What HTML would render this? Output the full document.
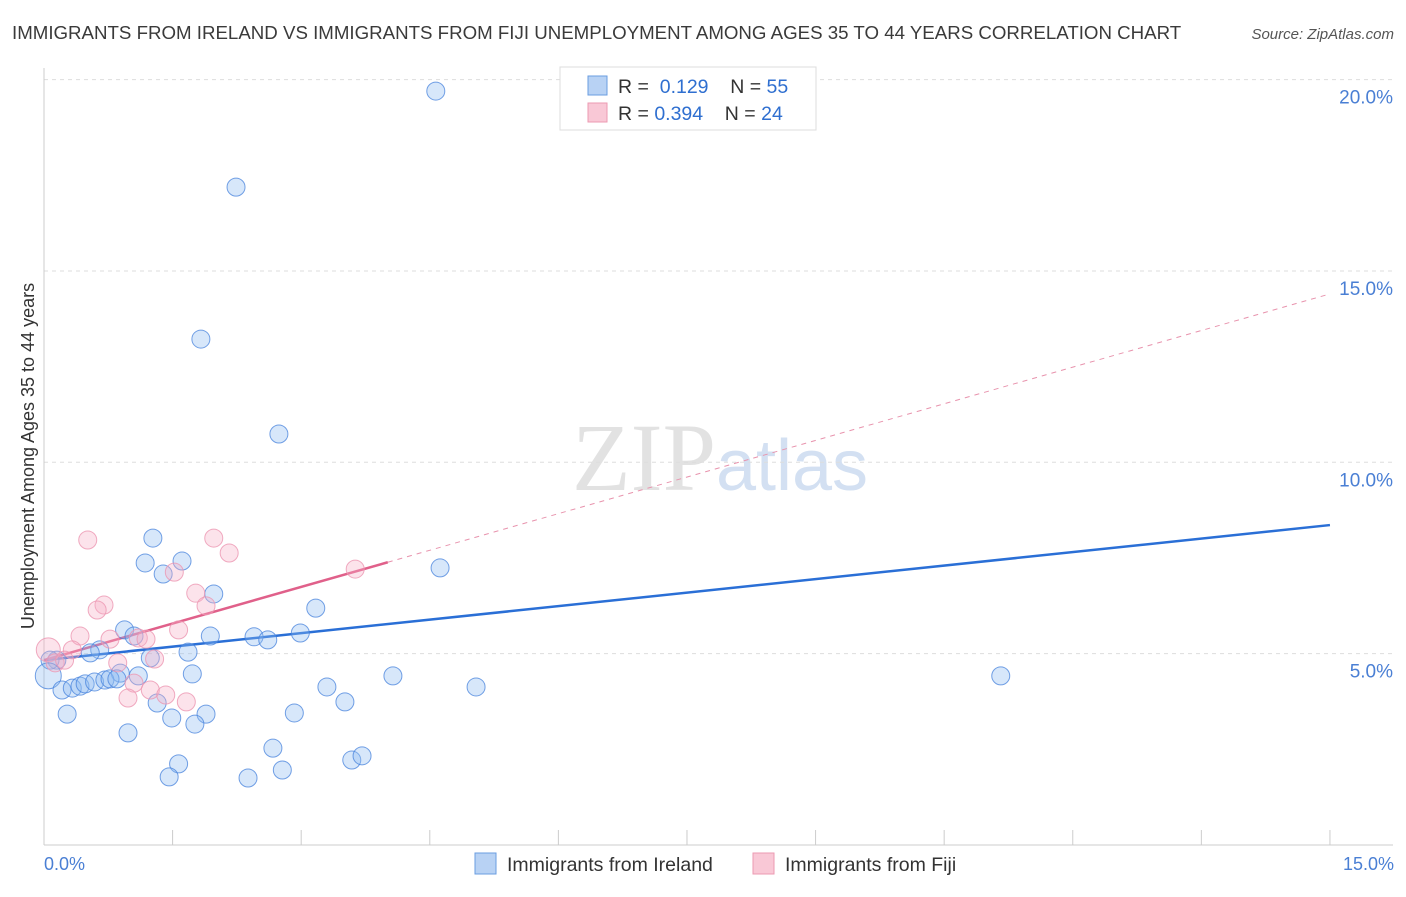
<!DOCTYPE html>
<html><head><meta charset="utf-8"><style>
body{margin:0;background:#fff;font-family:"Liberation Sans",sans-serif;}
svg text{font-family:"Liberation Sans",sans-serif;}
</style></head><body>
<svg id="chart" width="1406" height="892" viewBox="0 0 1406 892">
<text x="12" y="39" font-size="18.7" fill="#3a3a3a">IMMIGRANTS FROM IRELAND VS IMMIGRANTS FROM FIJI UNEMPLOYMENT AMONG AGES 35 TO 44 YEARS CORRELATION CHART</text>
<text x="1394" y="39" font-size="15" font-style="italic" fill="#555" text-anchor="end">Source: ZipAtlas.com</text>
<text x="720" y="490" font-size="96" text-anchor="middle"><tspan fill="#e2e2e2" font-family="Liberation Serif">ZIP</tspan><tspan fill="#d3e0f2" font-size="72">atlas</tspan></text>
<g id="grid"></g><g id="axes"></g><g id="trends"></g><g id="pts"></g>
<text transform="translate(34,456) rotate(-90)" font-size="18" fill="#333" text-anchor="middle">Unemployment Among Ages 35 to 44 years</text>
<text x="44" y="870" font-size="18" fill="#4a7fd4">0.0%</text>
<text x="1394" y="870" font-size="18" fill="#4a7fd4" text-anchor="end">15.0%</text>
<g>
<rect x="560" y="67" width="256" height="63" fill="#fff" stroke="#ddd"/>
<rect x="588" y="76" width="19" height="19" fill="#b8d2f4" stroke="#6a9de0"/>
<rect x="588" y="103" width="19" height="19" fill="#f9c8d6" stroke="#ec9ab2"/>
<text x="618" y="93" font-size="19.5" fill="#333">R = <tspan fill="#2f6fd0">&#160;0.129</tspan>&#160;&#160;&#160;&#160;N = <tspan fill="#2f6fd0">55</tspan></text>
<text x="618" y="120" font-size="19.5" fill="#333">R = <tspan fill="#2f6fd0">0.394</tspan>&#160;&#160;&#160;&#160;N = <tspan fill="#2f6fd0">24</tspan></text>
</g>
<g>
<rect x="475" y="853" width="21" height="21" fill="#b8d2f4" stroke="#6a9de0"/>
<text x="507" y="871" font-size="19.5" fill="#333">Immigrants from Ireland</text>
<rect x="753" y="853" width="21" height="21" fill="#f9c8d6" stroke="#ec9ab2"/>
<text x="785" y="871" font-size="19.5" fill="#333">Immigrants from Fiji</text>
</g>
</svg>
<script>
const yTicks=[5,10,15,20];
const xTickCount=10;
const irelandX=[4.57,2.24,1.83,2.74,1.27,1.18,1.61,1.39,1.98,4.62,3.17,0.94,1.05,1.94,2.45,2.61,2.99,1.68,0.65,0.54,1.24,0.15,0.07,0.05,1.73,1.10,0.89,4.07,11.16,5.04,3.30,0.21,0.33,0.42,0.48,0.59,0.71,0.77,0.85,3.51,1.32,1.49,1.89,2.92,1.76,0.27,0.98,2.67,1.57,1.46,2.38,2.78,3.59,3.71];
const irelandY=[19.70,17.19,13.22,10.74,8.02,7.37,7.42,7.08,6.56,7.24,6.19,5.62,5.46,5.46,5.44,5.36,5.54,5.04,5.10,5.02,4.89,4.83,4.83,4.42,4.47,4.42,4.49,4.42,4.42,4.13,4.13,4.05,4.10,4.15,4.21,4.26,4.31,4.34,4.34,3.74,3.71,3.32,3.42,3.45,3.16,3.42,2.93,2.53,2.12,1.78,1.75,1.96,2.22,2.33];
const fijiX=[0.51,1.98,2.16,1.52,3.63,1.77,0.70,0.62,1.89,1.10,0.42,0.77,1.57,1.19,1.29,0.33,0.05,0.13,0.86,0.24,1.05,1.24,1.42,0.98,1.66];
const fijiY=[7.97,8.02,7.63,7.13,7.21,6.58,6.27,6.14,6.25,5.41,5.46,5.38,5.62,5.38,4.86,5.10,5.10,4.76,4.76,4.83,4.23,4.05,3.92,3.84,3.74];
const irelandTrend=[4.83,8.36];
const fijiTrend=[4.83,0.638];
const fijiSolidEnd=4.01;
const NS="http://www.w3.org/2000/svg";
const X=v=>44+v*85.73, Y=v=>845-v*38.27;
function mk(tag,at,parent){const e=document.createElementNS(NS,tag);for(const k in at)e.setAttribute(k,at[k]);document.getElementById(parent).appendChild(e);return e;}
yTicks.forEach(t=>{
 const l=mk('line',{x1:44,x2:1393,y1:Y(t),y2:Y(t),stroke:'#ddd','stroke-dasharray':'4,4'},'grid');
 
 
 const tx=mk('text',{x:1393,y:Y(t)+24,'font-size':19,fill:'#4a7fd4','text-anchor':'end'},'grid');
 tx.textContent=t.toFixed(1)+'%';
 
 
});
const ya=mk('line',{x1:44,x2:44,y1:68,y2:845,stroke:'#ccc'},'axes');


const xa=mk('line',{x1:44,x2:1393,y1:845,y2:845,stroke:'#ccc'},'axes');


for(let i=0;i<=xTickCount;i++){
 const t=mk('line',{x1:X(i*1.5),x2:X(i*1.5),y1:830,y2:845,stroke:'#ccc'},'axes');
 
 
}
const bt=mk('line',{x1:X(0),y1:Y(irelandTrend[0]),x2:X(15),y2:Y(irelandTrend[1]),stroke:'#2a6fd6','stroke-width':2.5},'trends');


const pd=mk('line',{x1:X(fijiSolidEnd),y1:Y(fijiTrend[0]+fijiTrend[1]*fijiSolidEnd),x2:X(15),y2:Y(fijiTrend[0]+fijiTrend[1]*15),stroke:'#e893ad','stroke-width':1,'stroke-dasharray':'5,5'},'trends');


const ps=mk('line',{x1:X(0),y1:Y(fijiTrend[0]),x2:X(fijiSolidEnd),y2:Y(fijiTrend[0]+fijiTrend[1]*fijiSolidEnd),stroke:'#e0608a','stroke-width':2.5},'trends');


irelandX.forEach((x,i)=>{
 const c=mk('circle',{cx:X(x),cy:Y(irelandY[i]),r:i==23?13:9,fill:'rgba(140,185,240,0.35)',stroke:'rgba(70,130,220,0.75)','stroke-width':1},'pts');
 
 
});
fijiX.forEach((x,i)=>{
 const c=mk('circle',{cx:X(x),cy:Y(fijiY[i]),r:i==16?12:9,fill:'rgba(247,175,198,0.35)',stroke:'rgba(236,150,178,0.8)','stroke-width':1},'pts');
 
 
});
</script>
</body></html>
